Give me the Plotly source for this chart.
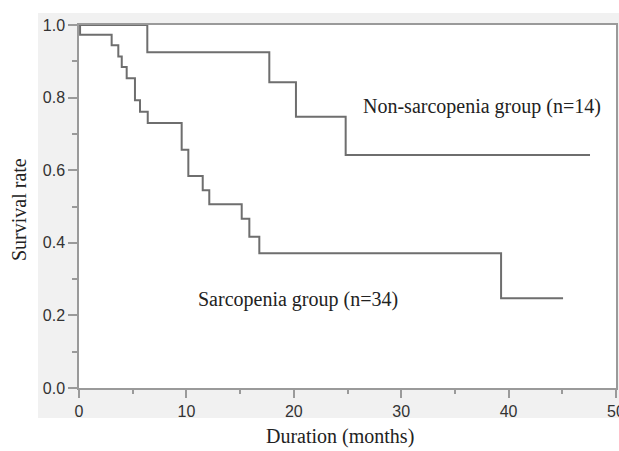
import plotly.graph_objects as go

# Kaplan-Meier step data (months, survival rate)
sarc_time = [0, 0.1, 3.04, 3.66, 3.98, 4.44, 5.21, 5.68, 6.40, 9.56, 10.18,
             11.52, 12.13, 15.15, 15.86, 16.79, 39.3, 45.07]
sarc_surv = [1.0, 0.973, 0.944, 0.913, 0.884, 0.853, 0.793, 0.761, 0.730, 0.656,
             0.584, 0.545, 0.506, 0.466, 0.417, 0.371, 0.247, 0.247]

non_time = [0, 6.36, 17.72, 20.2, 24.83, 47.58]
non_surv = [1.0, 0.925, 0.842, 0.747, 0.642, 0.642]

x_ticks = [0, 10, 20, 30, 40, 50]
y_ticks = [0.0, 0.2, 0.4, 0.6, 0.8, 1.0]

label_sarc = "Sarcopenia group (n=34)"
label_non = "Non-sarcopenia group (n=14)"

W, H = 619, 451
L, R, T, B = 79, 3, 25, 63
pw, ph = W - L - R, H - T - B

def px_x(px):
    return (px - L) / pw

def px_y(py):
    return (H - B - py) / ph

line_col = "#6e6e6e"
frame_col = "#9a9a9a"
serif = "Liberation Serif, Times New Roman, serif"
sans = "Liberation Sans, Arial, sans-serif"

fig = go.Figure()
fig.add_trace(go.Scatter(x=sarc_time, y=sarc_surv, mode="lines", line_shape="hv",
                         line=dict(color=line_col, width=2), showlegend=False,
                         cliponaxis=False))
fig.add_trace(go.Scatter(x=non_time, y=non_surv, mode="lines", line_shape="hv",
                         line=dict(color=line_col, width=2), showlegend=False,
                         cliponaxis=False))

# light gray panel behind the axes area
fig.add_shape(type="rect", xref="paper", yref="paper",
              x0=px_x(38), x1=px_x(625), y0=px_y(418), y1=px_y(13),
              fillcolor="#f1f1f1", line=dict(width=0), layer="below")
fig.add_shape(type="rect", xref="x", yref="y", x0=0, x1=50, y0=0, y1=1,
              fillcolor="white", line=dict(width=0), layer="below")

def note(px, py, text, angle=0):
    fig.add_annotation(x=px_x(px), y=px_y(py), xref="paper", yref="paper",
                       xanchor="center", yanchor="middle", text=text,
                       showarrow=False, textangle=angle,
                       font=dict(family=serif, size=20, color="#222"))

note(482, 106, label_non)
note(298, 299, label_sarc)
note(340, 437, "Duration (months)")
note(19, 210, "Survival rate", angle=-90)

fig.update_xaxes(range=[0, 50], tickvals=x_ticks, ticktext=[str(v) for v in x_ticks],
                 ticks="outside", ticklen=8, tickwidth=1.5, tickcolor=frame_col,
                 minor=dict(dtick=5, ticks="outside", ticklen=4, tickcolor=frame_col, tickwidth=1.5),
                 showline=True, mirror=True, linecolor=frame_col, linewidth=1.5,
                 showgrid=False, zeroline=False, ticklabeloverflow="allow",
                 automargin=False,
                 tickfont=dict(family=sans, size=16, color="#333"))
fig.update_yaxes(range=[0, 1], tickvals=y_ticks, ticktext=["%.1f" % v for v in y_ticks],
                 ticks="outside", ticklen=9, tickwidth=1.5, tickcolor=frame_col,
                 minor=dict(dtick=0.1, ticks="outside", ticklen=5, tickcolor=frame_col, tickwidth=1.5),
                 showline=True, mirror=True, linecolor=frame_col, linewidth=1.5,
                 showgrid=False, zeroline=False, automargin=False,
                 tickfont=dict(family=sans, size=16, color="#333"))

fig.update_layout(width=W, height=H, margin=dict(l=L, r=R, t=T, b=B, autoexpand=False),
                  paper_bgcolor="white", plot_bgcolor="white")

fig.write_html("out.html", config={"displayModeBar": False},
               post_script="document.body.style.margin='0';document.body.style.overflow='hidden';")
